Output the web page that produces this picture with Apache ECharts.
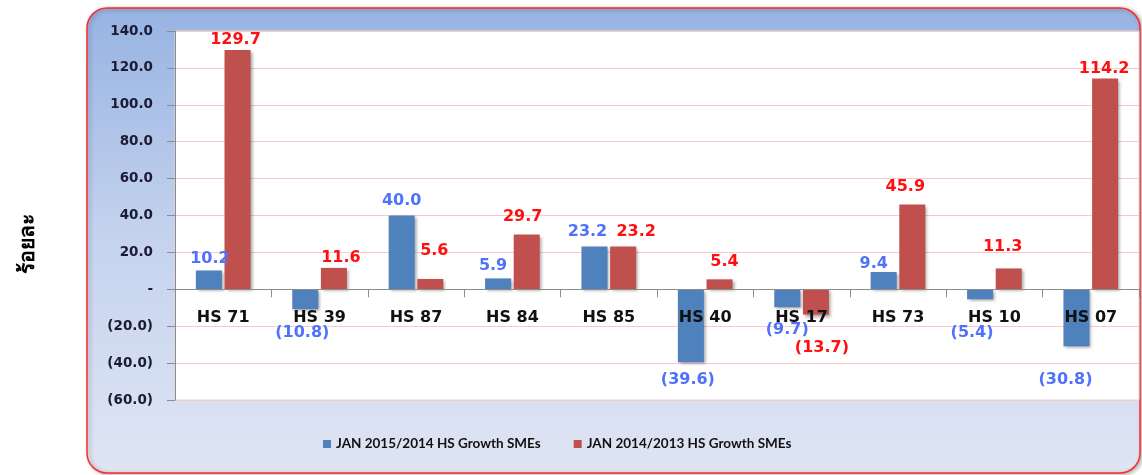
<!DOCTYPE html>
<html>
<head>
<meta charset="utf-8">
<script src="https://cdn.jsdelivr.net/npm/echarts@6/dist/echarts.min.js"></script>
<style>
html,body{margin:0;padding:0;background:#fff;}
#c{width:1142px;height:475px;}
</style>
</head>
<body>
<div id="c"></div>
<script>
// ---- data ----
const categories = ['HS 71','HS 39','HS 87','HS 84','HS 85','HS 40','HS 17','HS 73','HS 10','HS 07'];
const seriesNames = ['JAN 2015/2014 HS Growth SMEs','JAN 2014/2013 HS Growth SMEs'];
const growth2015 = [10.2, -10.8, 40.0, 5.9, 23.2, -39.6, -9.7, 9.4, -5.4, -30.8];
const growth2014 = [129.7, 11.6, 5.6, 29.7, 23.2, 5.4, -13.7, 45.9, 11.3, 114.2];
const yTickMin = -60, yTickMax = 140, yTickStep = 20;
const yAxisTitle = 'ร้อยละ';

// ---- layout nudges for value labels (as placed in the original) ----
const nudgeBlue = [[1,-2],[-3,14],[0,-5],[-5,-3],[-7,-5],[-3,7],[0,13],[-10,2],[-8,24],[-11,24]];
const nudgeRed  = [[-2,0],[7,0],[4,-18],[-4,-8],[13,-5],[5,-7],[6,23],[-7,-8],[-6,-12],[-1,0]];

function fmt(v){
  if (v === 0) return '-';
  return v < 0 ? '(' + Math.abs(v).toFixed(1) + ')' : v.toFixed(1);
}
function buildData(vals, nudges){
  return vals.map((v,i)=>({value:v, label:{offset:nudges[i]}}));
}

const W = 1142, H = 475;
const gridTop = 31, gridBottom = 75;
const plotH = H - gridTop - gridBottom;
const zeroLift = (0 - yTickMin) / (yTickMax - yTickMin) * plotH;

const chart = echarts.init(document.getElementById('c'), null, {renderer:'canvas'});
const labelFont = 'DejaVu Sans';
const barShadow = {shadowBlur:3, shadowOffsetX:2, shadowOffsetY:2, shadowColor:'rgba(0,0,0,0.35)'};

chart.setOption({
  animation:false,
  graphic:[
    {type:'rect', z:-10, shape:{x:87, y:8, width:1053, height:465, r:20},
     style:{fill:new echarts.graphic.LinearGradient(0,0,0,1,[{offset:0,color:'#97b3e2'},{offset:0.5,color:'#c5d3ee'},{offset:1,color:'#dfe5f3'}]),
            stroke:'#ff2a2a', lineWidth:1.5, shadowBlur:4, shadowOffsetX:2, shadowOffsetY:1, shadowColor:'rgba(0,0,0,0.3)'}},
    {type:'text', z:5, x:28, y:244, rotation:Math.PI/2,
     style:{text:yAxisTitle, font:'bold 21px "Noto Sans", "DejaVu Sans", sans-serif', fill:'#000', textAlign:'center', textVerticalAlign:'middle'}}
  ],
  grid:{left:175, right:3, top:gridTop, bottom:gridBottom, show:true, backgroundColor:'#fff', borderColor:'#e3d6d6', borderWidth:1},
  legend:{
    left:318, top:432, icon:'rect', itemWidth:8, itemHeight:8, itemGap:33,
    textStyle:{fontFamily:'Lato', fontWeight:'bold', fontSize:13.5, color:'#111'},
    data:seriesNames
  },
  xAxis:{
    type:'category', data:categories, z:5, position:'bottom', offset:-zeroLift,
    axisLine:{onZero:false, lineStyle:{color:'#8c8c8c', width:1}},
    axisTick:{show:true, length:8, lineStyle:{color:'#8c8c8c'}},
    axisLabel:{margin:21, fontFamily:labelFont, fontWeight:'bold', fontSize:16, color:'#111'},
    splitLine:{show:false}
  },
  yAxis:{
    type:'value', min:yTickMin, max:yTickMax, interval:yTickStep,
    axisLine:{show:true, lineStyle:{color:'#8c8c8c'}},
    axisTick:{show:true, length:8, lineStyle:{color:'#8c8c8c'}},
    axisLabel:{margin:22, formatter:fmt, fontFamily:labelFont, fontWeight:'bold', fontSize:13.5, color:'#1b1b36'},
    splitLine:{show:true, lineStyle:{color:'#f9c9c9', width:1}}
  },
  series:[
    {name:seriesNames[0], type:'bar', data:buildData(growth2015, nudgeBlue),
     barWidth:'27%', barGap:'10%',
     itemStyle:Object.assign({color:'#4f81bd'}, barShadow),
     label:{show:true, position:'outside', distance:2, formatter:p=>fmt(p.value),
            fontFamily:labelFont, fontWeight:'bold', fontSize:16, color:'#4f72fa'}},
    {name:seriesNames[1], type:'bar', data:buildData(growth2014, nudgeRed),
     barWidth:'27%', barGap:'10%',
     itemStyle:Object.assign({color:'#c0504d'}, barShadow),
     label:{show:true, position:'outside', distance:2, formatter:p=>fmt(p.value),
            fontFamily:labelFont, fontWeight:'bold', fontSize:16, color:'#ff1010'}}
  ]
});
</script>
</body>
</html>
